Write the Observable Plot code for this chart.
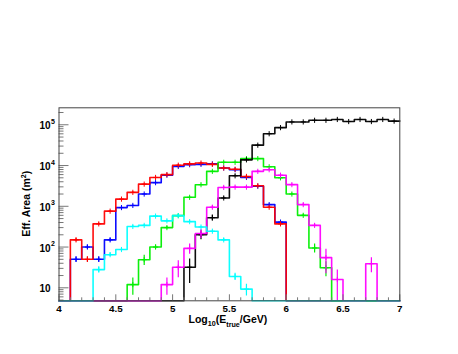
<!DOCTYPE html>
<html><head><meta charset="utf-8">
<script src="https://cdn.jsdelivr.net/npm/d3@7"></script>
<script src="https://cdn.jsdelivr.net/npm/@observablehq/plot@0.6"></script>
<style>
html,body{margin:0;padding:0;background:#fff;}
#chart{width:458px;height:354px;overflow:hidden;}
</style></head><body><div id="chart"></div>
<script>
// Bin low edges (log10 E_true / GeV), bin width 0.1
const binLow = [4.0,4.1,4.2,4.3,4.4,4.5,4.6,4.7,4.8,4.9,5.0,5.1,5.2,5.3,5.4,5.5,5.6,5.7,5.8,5.9,6.0,6.1,6.2,6.3,6.4,6.5,6.6,6.7,6.8,6.9];
const binHigh = 7.0;

// Effective areas (m^2) per bin; 0 = empty bin
const red     = [0,150,50,370,760,1500,2200,3500,5100,6000,10200,11000,11500,10700,8700,8100,5400,3200,950,370,0,0,0,0,0,0,0,0,0,0];
const blue    = [0,50,100,50,150,930,1050,2000,3800,5800,9500,10500,10700,11000,8700,7900,5100,3100,1100,410,0,0,0,0,0,0,0,0,0,0];
const cyan    = [0,0,0,28,65,87,320,340,575,440,590,420,310,245,150,19,9.3,0,0,0,0,0,0,0,0,0,0,0,0,0];
const green   = [0,0,0,0,0,0,12,49,100,300,590,1660,3390,7200,12000,12000,14800,14800,9300,5000,2000,600,95,31,0,0,0,0,0,0];
const magenta = [0,0,0,0,0,0,0,0,0,12,32,93,215,950,2900,2950,2950,7200,7900,5800,3400,1100,340,55,16,0,0,39,0,0];
const black   = [0,0,0,0,0,0,0,0,0,0,0,32,200,525,1600,5600,13800,31600,60300,85100,117500,117500,128800,128800,135000,120000,135000,120000,135000,123000];

// Relative errors per bin
const redErr     = [0,.1,.15,.05,.04,.03,.03,.02,.02,.02,.02,.02,.02,.02,.02,.02,.02,.02,.03,.05,0,0,0,0,0,0,0,0,0,0];
const blueErr    = [0,.15,.12,.15,.1,.03,.03,.02,.02,.02,.02,.02,.02,.02,.02,.02,.02,.02,.03,.05,0,0,0,0,0,0,0,0,0,0];
const cyanErr    = [0,0,0,.17,.1,.08,.05,.05,.04,.05,.04,.05,.05,.06,.08,.2,.32,0,0,0,0,0,0,0,0,0,0,0,0,0];
const greenErr   = [0,0,0,0,0,0,.45,.28,.12,.07,.05,.04,.03,.02,.02,.02,.02,.02,.02,.03,.04,.06,.25,.4,0,0,0,0,0,0];
const magentaErr = [0,0,0,0,0,0,0,0,0,.45,.45,.28,.25,.08,.05,.05,.05,.03,.03,.03,.04,.05,.08,.6,.7,0,0,.4,0,0];
const blackErr   = [0,0,0,0,0,0,0,0,0,0,0,.6,.25,.17,.06,.04,.02,.01,.01,.01,.01,.01,.01,.01,.01,.01,.01,.01,.01,.01];

// Axis ticks
const xMajorTicks = [4,4.5,5,5.5,6,6.5,7];
const xMinorTicks = [4.1,4.2,4.3,4.4,4.6,4.7,4.8,4.9,5.1,5.2,5.3,5.4,5.6,5.7,5.8,5.9,6.1,6.2,6.3,6.4,6.6,6.7,6.8,6.9];
const yMajorTicks = [10,100,1000,10000,100000];
const yMinorTicks = [5,6,7,8,9,20,30,40,50,60,70,80,90,200,300,400,500,600,700,800,900,2000,3000,4000,5000,6000,7000,8000,9000,20000,30000,40000,50000,60000,70000,80000,90000,200000];
const xTickLabels = ["4","4.5","5","5.5","6","6.5","7"];
const yExponents = ["","2","3","4","5"];

const yMin = 4.8, yMax = 2.61e5;
const W = 458, H = 354, mL = 58.5, mR = 58.7, mT = 107.3, mB = 53.7;
const innerW = W - mL - mR, innerH = H - mT - mB;

// draw order: last drawn appears on top
const series = [
  {values: blue, err: blueErr, color: "#0000ff"},
  {values: red, err: redErr, color: "#ff0000"},
  {values: green, err: greenErr, color: "#00ee00"},
  {values: black, err: blackErr, color: "#000000"},
  {values: magenta, err: magentaErr, color: "#ff00ff"},
  {values: cyan, err: cyanErr, color: "#00ffff"}
];

const font = "'Liberation Sans', Arial, Helvetica, sans-serif";
const marks = [];
for (const s of series) {
  const steps = binLow.map((x, i) => ({x, y: s.values[i] > 0 ? s.values[i] : yMin}));
  steps.push({x: binHigh, y: steps[steps.length - 1].y});
  marks.push(Plot.line(steps, {x: "x", y: "y", curve: "step-after", stroke: s.color, strokeWidth: 1.6, strokeOpacity: 0.95}));
  const pts = binLow.map((x, i) => ({x: x + 0.05, y: s.values[i], e: s.err[i]})).filter(d => d.y > 0);
  marks.push(Plot.ruleX(pts, {x: "x", y1: d => d.y * (1 - d.e), y2: d => d.y * (1 + d.e), stroke: s.color, strokeWidth: 1.2, clip: true}));
  marks.push(Plot.dot(pts, {x: "x", y: "y", symbol: "plus", r: 1.8, stroke: s.color, fill: "none", strokeWidth: 1, clip: true}));
}

marks.push(
  Plot.tickY(yMajorTicks, {y: d => d, insetRight: innerW - 10, stroke: "#777", strokeWidth: 1}),
  Plot.tickY(yMinorTicks, {y: d => d, insetRight: innerW - 5, stroke: "#777", strokeWidth: 1}),
  Plot.tickX(xMajorTicks, {x: d => d, insetTop: innerH - 6, stroke: "#777", strokeWidth: 1}),
  Plot.tickX(xMinorTicks, {x: d => d, insetTop: innerH - 3, stroke: "#777", strokeWidth: 1}),
  Plot.frame({stroke: "#444", strokeWidth: 1}),
  Plot.text(xMajorTicks, {x: d => d, text: (d, i) => xTickLabels[i], frameAnchor: "bottom", lineAnchor: "bottom", textAnchor: "middle", dy: 11.4, fontSize: 9.8, fontWeight: "bold", fill: "#000"}),
  Plot.text(yMajorTicks, {y: d => d, text: () => "10", frameAnchor: "left", lineAnchor: "bottom", textAnchor: "end", dx: -8.5, dy: 4.6, fontSize: 10, fontWeight: "bold", fill: "#000"}),
  Plot.text(yMajorTicks, {y: d => d, text: (d, i) => yExponents[i], frameAnchor: "left", lineAnchor: "bottom", textAnchor: "start", dx: -8, dy: -1, fontSize: 7, fontWeight: "bold", fill: "#000"})
);

const plot = Plot.plot({
  width: W, height: H,
  marginLeft: mL, marginRight: mR, marginTop: mT, marginBottom: mB,
  x: {domain: [4, 7], axis: null},
  y: {type: "log", domain: [yMin, yMax], axis: null},
  style: {fontFamily: font, background: "#fff"},
  marks
});

// Axis titles with sub/superscripts
const svg = d3.select(plot);
const xs = plot.scale("x"), ys = plot.scale("y");
const xt = svg.append("text")
  .attr("x", xs.apply(5.5) - 1).attr("y", 323)
  .attr("text-anchor", "middle")
  .attr("font-family", font).attr("font-weight", "bold").attr("font-size", 10.5).attr("fill", "#000");
xt.append("tspan").text("Log");
xt.append("tspan").attr("dy", 3).attr("font-size", 7.2).text("10");
xt.append("tspan").attr("dy", -3).text("(E");
xt.append("tspan").attr("dy", 3.5).attr("font-size", 7.2).text("true");
xt.append("tspan").attr("dy", -3.5).text("/GeV)");

const yc = (ys.apply(yMin) + ys.apply(yMax)) / 2;
const yt = svg.append("text")
  .attr("transform", `translate(29.5,${yc}) rotate(-90)`)
  .attr("text-anchor", "middle")
  .attr("font-family", font).attr("font-weight", "bold").attr("font-size", 10.5).attr("fill", "#000");
yt.append("tspan").text("Eff. Area (m");
yt.append("tspan").attr("dy", -4).attr("font-size", 7.2).text("2");
yt.append("tspan").attr("dy", 4).text(")");

document.getElementById("chart").appendChild(plot);
</script></body></html>
